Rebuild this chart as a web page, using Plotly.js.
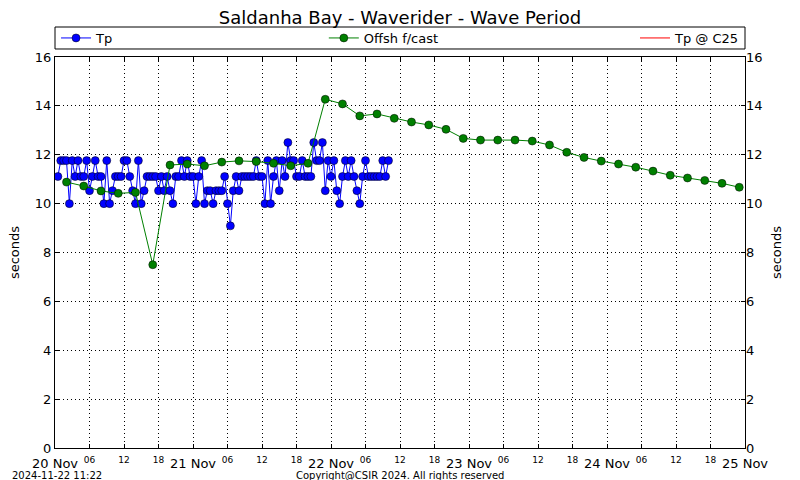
<!DOCTYPE html>
<html>
<head>
<meta charset="utf-8">
<script src="https://cdn.plot.ly/plotly-3.0.1.min.js"></script>
<style>html,body{margin:0;padding:0;background:#fff;}#chart{width:800px;height:480px;}</style>
</head>
<body>
<div id="chart"></div>
<script>
// ---- Data ----
// Measured peak period Tp (s), half-hourly from 20 Nov 00:30
var tpStart = '2024-11-20T00:30:00';
var tpStepMinutes = 30;
var tpValues = [
  11.11, 11.76, 11.76, 11.76, 10.0, 11.76, 11.11, 11.76, 11.11, 11.11,
  11.76, 10.53, 11.11, 11.76, 11.11, 11.11, 10.0, 11.76, 10.0, 10.53,
  11.11, 11.11, 11.11, 11.76, 11.76, 11.11, 10.53, 10.0, 11.76, 10.0,
  10.53, 11.11, 11.11, 11.11, 11.11, 10.53, 11.11, 10.53, 11.11, 10.53,
  10.0, 11.11, 11.11, 11.76, 11.11, 11.76, 11.11, 11.11, 10.0, 11.11,
  11.76, 10.0, 10.53, 10.53, 10.0, 10.53, 10.53, 10.53, 11.11, 10.0,
  9.09, 10.53, 11.11, 10.53, 11.11, 11.11, 11.11, 11.11, 11.11, 11.76,
  11.11, 11.11, 10.0, 11.76, 10.0, 11.11, 11.76, 10.53, 11.76, 11.11,
  12.5, 11.76, 11.76, 11.11, 11.11, 11.76, 11.11, 11.11, 11.11, 12.5,
  11.76, 11.76, 12.5, 10.53, 11.76, 11.11, 11.76, 10.53, 10.0, 11.11,
  11.76, 11.11, 11.76, 11.11, 10.53, 10.0, 11.11, 11.76, 11.11, 11.11,
  11.11, 11.11, 11.11, 11.76, 11.11, 11.76
];
// Offshore forecast (s), 3-hourly from 20 Nov 02:00
var fcStart = '2024-11-20T02:00:00';
var fcStepMinutes = 180;
var fcValues = [
  10.88, 10.72, 10.52, 10.42, 10.46, 7.5, 11.58, 11.62, 11.55, 11.7,
  11.75, 11.72, 11.65, 11.55, 11.65, 14.27, 14.08, 13.59, 13.67, 13.49,
  13.34, 13.22, 13.04, 12.67, 12.6, 12.6, 12.6, 12.56, 12.4, 12.1,
  11.89, 11.74, 11.62, 11.49, 11.33, 11.16, 11.05, 10.95, 10.83, 10.67
];
var seriesNames = ['Tp', 'Offsh f/cast', 'Tp @ C25'];
var dayLabels = ['20 Nov', '21 Nov', '22 Nov', '23 Nov', '24 Nov', '25 Nov'];
var dayDates = ['2024-11-20', '2024-11-21', '2024-11-22', '2024-11-23', '2024-11-24', '2024-11-25'];
var hourLabels = ['06', '12', '18'];
var yTicks = [0, 2, 4, 6, 8, 10, 12, 14, 16];

// ---- helpers ----
function pad(n){return (n<10?'0':'')+n;}
function fmt(d){return d.getUTCFullYear()+'-'+pad(d.getUTCMonth()+1)+'-'+pad(d.getUTCDate())+' '+pad(d.getUTCHours())+':'+pad(d.getUTCMinutes());}
function times(start, stepMin, n){
  var t0 = Date.parse(start+'Z'); var out=[];
  for (var i=0;i<n;i++){ out.push(fmt(new Date(t0 + i*stepMin*60000))); }
  return out;
}
var tpTimes = times(tpStart, tpStepMinutes, tpValues.length);
var fcTimes = times(fcStart, fcStepMinutes, fcValues.length);

var tickvals = [], ticktext = [];
for (var d=0; d<dayDates.length; d++){
  tickvals.push(dayDates[d]+' 00:00'); ticktext.push(dayLabels[d]);
  if (d < dayDates.length-1){
    for (var h=0; h<hourLabels.length; h++){
      tickvals.push(dayDates[d]+' '+hourLabels[h]+':00');
      ticktext.push('<span style="font-size:9px;baseline-shift:5px">'+hourLabels[h]+'</span>');
    }
  }
}

var FONT = 'DejaVu Sans, Liberation Sans, sans-serif';

var traces = [
  {x: tpTimes, y: tpValues, name: seriesNames[0], type: 'scatter', mode: 'lines+markers',
   line: {color: '#0000ff', width: 1}, marker: {color: '#0000ff', size: 8, line: {color: '#000000', width: 0.5}},
   legend: 'legend'},
  {x: fcTimes, y: fcValues, name: seriesNames[1], type: 'scatter', mode: 'lines+markers',
   line: {color: '#008000', width: 1}, marker: {color: '#008000', size: 8, line: {color: '#000000', width: 0.5}},
   legend: 'legend2'},
  {x: [null], y: [null], name: seriesNames[2], type: 'scatter', mode: 'lines',
   line: {color: '#ff0000', width: 1}, yaxis: 'y2', legend: 'legend3'}
];

var legBase = {orientation: 'h', y: 1.0486, yanchor: 'middle', xanchor: 'left', bgcolor: 'rgba(0,0,0,0)',
  borderwidth: 0, font: {family: FONT, size: 13, color: '#000'}, itemwidth: 30};

var layout = {
  width: 800, height: 480,
  margin: {l: 55, r: 55, t: 57, b: 32},
  paper_bgcolor: '#ffffff', plot_bgcolor: '#ffffff',
  font: {family: FONT, size: 13, color: '#000'},
  title: {text: 'Saldanha Bay - Waverider - Wave Period', x: 0.5, xanchor: 'center', y: 0.9625, yanchor: 'middle',
          font: {family: FONT, size: 18, color: '#000'}},
  showlegend: true,
  legend: Object.assign({}, legBase, {x: 0.0015}),
  legend2: Object.assign({}, legBase, {x: 0.3896}),
  legend3: Object.assign({}, legBase, {x: 0.8406}),
  xaxis: {type: 'date', range: ['2024-11-20 00:00', '2024-11-25 00:00'], tickmode: 'array',
          tickvals: tickvals, ticktext: ticktext, ticks: 'inside', ticklen: 4, tickcolor: '#000',
          showline: true, linecolor: '#000', linewidth: 1, mirror: 'ticks',
          showgrid: true, gridcolor: '#000', griddash: '1px,3px', gridwidth: 1, zeroline: false,
          tickfont: {family: FONT, size: 13, color: '#000'}, tickangle: 0, ticklabelstandoff: 3},
  yaxis: {range: [0, 16], tickvals: yTicks, ticks: 'inside', ticklen: 4, tickcolor: '#000',
          showline: true, linecolor: '#000', linewidth: 1, mirror: true,
          showgrid: true, gridcolor: '#000', griddash: '1px,3px', gridwidth: 1, zeroline: false,
          tickfont: {family: FONT, size: 13, color: '#000'},
          title: {text: 'seconds', font: {family: FONT, size: 13, color: '#000'}, standoff: 12}},
  yaxis2: {range: [0, 16], tickvals: yTicks, overlaying: 'y', side: 'right', anchor: 'x',
           ticks: 'inside', ticklen: 4, tickcolor: '#000', showgrid: false, zeroline: false, showline: false,
           tickfont: {family: FONT, size: 13, color: '#000'},
           title: {text: 'seconds', font: {family: FONT, size: 13, color: '#000'}, standoff: 10}},
  shapes: [
    {type: 'rect', xref: 'paper', yref: 'paper', x0: 0, x1: 1, y0: 1.0205, y1: 1.0767,
     line: {color: '#000', width: 1}, fillcolor: 'rgba(0,0,0,0)'}
  ],
  annotations: [
    {text: '2024-11-22 11:22', xref: 'paper', yref: 'paper', x: -0.0652, y: -0.0716, xanchor: 'left', yanchor: 'middle',
     showarrow: false, font: {family: FONT, size: 10, color: '#000'}},
    {text: 'Copyright@CSIR 2024. All rights reserved', xref: 'paper', yref: 'paper', x: 0.5, y: -0.0716,
     xanchor: 'center', yanchor: 'middle', showarrow: false, font: {family: FONT, size: 10, color: '#000'}}
  ]
};

Plotly.newPlot('chart', traces, layout, {staticPlot: true, displayModeBar: false});
</script>
</body>
</html>
